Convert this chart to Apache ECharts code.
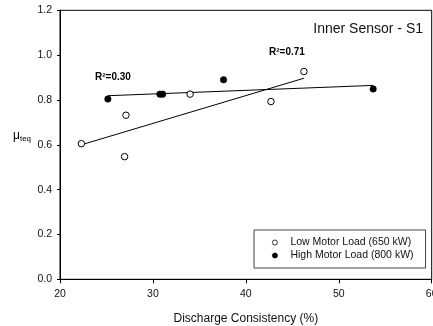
<!DOCTYPE html>
<html><head><meta charset="utf-8">
<script src="https://cdn.jsdelivr.net/npm/echarts@6/dist/echarts.min.js"></script>
<style>html,body{margin:0;padding:0;background:#fff}#c{width:433px;height:326px}</style>
</head><body><div id="c"></div>
<script>
// Data
var lowX = [22.3, 26.95, 27.1, 34.0, 42.7, 46.25];
var lowY = [0.605, 0.547, 0.732, 0.826, 0.793, 0.927];
var highX = [25.15, 30.75, 31.05, 37.6, 53.7];
var highY = [0.804, 0.826, 0.826, 0.890, 0.849];
var lowFitX = [22.3, 46.25];
var lowFitY = [0.600, 0.897];
var highFitX = [25.15, 53.7];
var highFitY = [0.819, 0.865];
var xTicks = [20, 30, 40, 50, 60];
var yTicks = [0.0, 0.2, 0.4, 0.6, 0.8, 1.0, 1.2];
var seriesNames = ['Low Motor Load (650 kW)', 'High Motor Load (800 kW)'];
var fitLabels = ['R\u00b2=0.71', 'R\u00b2=0.30'];
var title = 'Inner Sensor - S1';
var xTitle = 'Discharge Consistency (%)';

function pairs(xs, ys){ return xs.map(function(x,i){ return [x, ys[i]]; }); }

var FONT = '"Liberation Sans", Arial, sans-serif';
var chart = echarts.init(document.getElementById('c'), null, {renderer:'canvas'});
chart.setOption({
  animation:false,
  backgroundColor:'#fff',
  textStyle:{fontFamily:FONT},
  grid:{left:60, right:1.3, top:10.3, bottom:46.7, show:true, borderColor:'#000', borderWidth:1, backgroundColor:'transparent',
    containLabel:false, outerBoundsMode:'none'},
  xAxis:{type:'value', min:xTicks[0], max:xTicks[xTicks.length-1], interval:10,
    name:xTitle, nameLocation:'middle', nameGap:33,
    nameTextStyle:{fontFamily:FONT, fontSize:12, color:'#111'},
    axisLine:{lineStyle:{color:'#000', width:1}},
    axisTick:{show:true, length:4, lineStyle:{color:'#000'}},
    axisLabel:{fontFamily:FONT, fontSize:10.5, color:'#111', margin:9, showMaxLabel:true, hideOverlap:false},
    splitLine:{show:false}},
  yAxis:{type:'value', min:yTicks[0], max:yTicks[yTicks.length-1], interval:0.2,
    axisLine:{show:true, lineStyle:{color:'#000', width:1}},
    axisTick:{show:true, length:3, lineStyle:{color:'#000'}},
    axisLabel:{fontFamily:FONT, fontSize:10.5, color:'#111', margin:8, formatter:function(v){return v.toFixed(1);}},
    splitLine:{show:false}},
  legend:{data:seriesNames, orient:'vertical', left:254, top:230,
    borderColor:'#444', borderWidth:1, padding:[7,12,7,18], itemGap:2,
    itemWidth:5, itemHeight:5,
    itemStyle:{borderWidth:0.8},
    textStyle:{fontFamily:FONT, fontSize:10.5, color:'#111', padding:[0,0,0,8]}},
  series:[
    {type:'line', data:pairs(lowFitX, lowFitY), symbol:'none', lineStyle:{color:'#000', width:1}, z:1, silent:true},
    {type:'line', data:pairs(highFitX, highFitY), symbol:'none', lineStyle:{color:'#000', width:1}, z:1, silent:true},
    {name:seriesNames[0], type:'scatter', data:pairs(lowX, lowY), symbol:'circle', symbolSize:6.5,
      itemStyle:{color:'#fff', borderColor:'#000', borderWidth:1, opacity:1}, z:3},
    {name:seriesNames[1], type:'scatter', data:pairs(highX, highY), symbol:'circle', symbolSize:6.5,
      itemStyle:{color:'#000', borderColor:'#000', borderWidth:0.5, opacity:1}, z:3}
  ],
  graphic:[
    {type:'text', right:10, top:22, style:{text:title, font:'14px '+FONT, fill:'#111'}},
    {type:'text', left:269, top:47, style:{text:fitLabels[0], font:'bold 10px '+FONT, fill:'#000'}},
    {type:'text', left:95, top:72, style:{text:fitLabels[1], font:'bold 10px '+FONT, fill:'#000'}},
    {type:'text', left:13, top:130, style:{text:'{a|\u03bc}{b|teq}', rich:{a:{fontSize:12, fontFamily:FONT, color:'#111'}, b:{fontSize:8, fontFamily:FONT, color:'#111', padding:[6,0,0,0]}}}}
  ]
});
</script></body></html>
